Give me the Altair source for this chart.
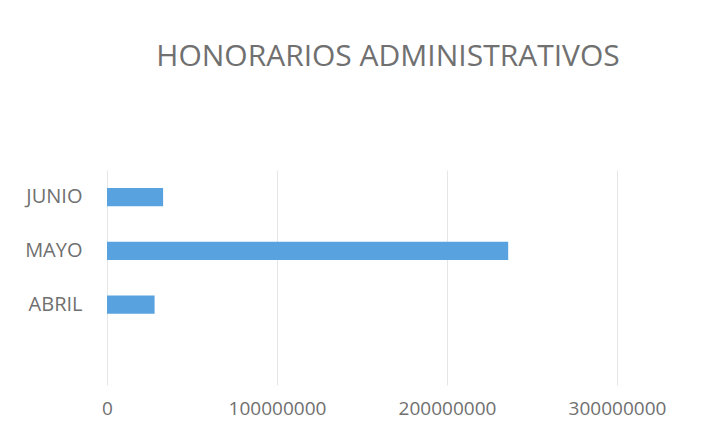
import altair as alt
import pandas as pd

months = ["JUNIO", "MAYO", "ABRIL"]
values = [33000000, 236000000, 28000000]
ticks = [0, 100000000, 200000000, 300000000]
title_text = "HONORARIOS ADMINISTRATIVOS"

df = pd.DataFrame({"mes": months, "valor": values})

FONT = "Open Sans"
GREY = "#707070"

chart = (
    alt.Chart(df)
    .mark_bar(color="#58a3df")
    .encode(
        x=alt.X(
            "valor:Q",
            scale=alt.Scale(domain=[0, 300000000], nice=False),
            axis=alt.Axis(
                values=ticks,
                format="d",
                title=None,
                domain=False,
                ticks=False,
                grid=True,
                gridColor="#e6e6e6",
                gridWidth=1,
                labelFont=FONT,
                labelFontSize=19,
                labelColor=GREY,
                labelPadding=14,
                labelFlush=False,
            ),
        ),
        y=alt.Y(
            "mes:N",
            sort=months,
            scale=alt.Scale(paddingInner=0.664, paddingOuter=0.832, align=0.202),
            axis=alt.Axis(
                title=None,
                domain=False,
                ticks=False,
                grid=False,
                labelFont=FONT,
                labelFontSize=20,
                labelColor=GREY,
                labelPadding=25,
            ),
        ),
    )
    .properties(
        width=510,
        height=215,
        view=alt.ViewBackground(stroke="transparent", strokeWidth=0),
        autosize=alt.AutoSizeParams(type="none"),
        padding={"left": 99, "top": 162, "right": 95, "bottom": 34},
        title=alt.TitleParams(
            text=title_text,
            font=FONT,
            fontSize=30,
            fontWeight="normal",
            color=GREY,
            anchor="middle",
            offset=98,
            dx=26,
        ),
    )
    .configure_view(stroke="transparent", strokeWidth=0)
    .configure(background="white")
)

chart.save("out.html", embed_options={"renderer": "svg", "actions": False})
